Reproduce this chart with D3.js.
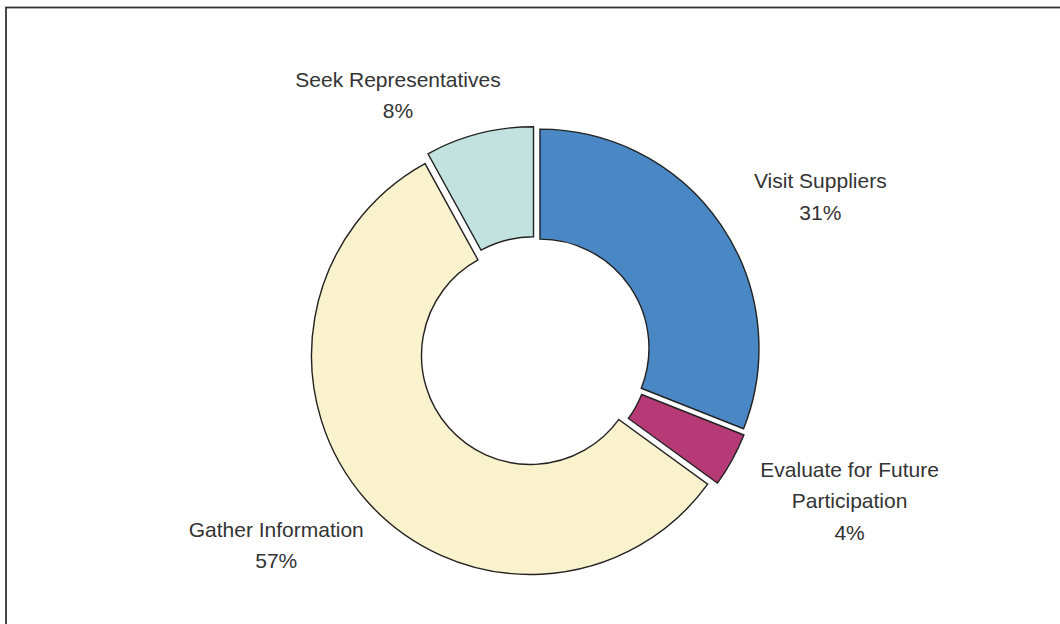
<!DOCTYPE html>
<html>
<head>
<meta charset="utf-8">
<script src="https://cdn.jsdelivr.net/npm/d3@7"></script>
<style>
  html, body { margin: 0; padding: 0; background: #ffffff; }
  svg { display: block; }
</style>
</head>
<body>
<svg id="chart" width="1060" height="624"></svg>
<script>
// ---- data ----
const categories = ["Visit Suppliers", "Evaluate for Future Participation", "Gather Information", "Seek Representatives"];
const values = [31, 4, 57, 8];
const percentLabels = ["31%", "4%", "57%", "8%"];
const colors = ["#4a87c5", "#b63a75", "#faf1cd", "#c2e2df"];

// ---- layout ----
const W = 1060, H = 624;
const cx = 535, cy = 351.5;
const outerR = 219, innerR = 109;
const explode = 6;
const labelRx = 345, labelRy = 285, labelShiftY = 5, extraLinePush = 14;
const labelNudgeDeg = { "Seek Representatives": -9 };
const fontSize = 21, lineH = 31.5, wrapWidth = 215;

const svg = d3.select("#chart");

// frame
svg.append("rect")
  .attr("x", 6).attr("y", 7.5)
  .attr("width", W + 50).attr("height", H + 50)
  .attr("fill", "#ffffff")
  .attr("stroke", "#333333").attr("stroke-width", 1.8);

const pie = d3.pie().sort(null).value(d => d.value).startAngle(0).endAngle(2 * Math.PI);
const arcs = pie(categories.map((c, i) => ({ name: c, value: values[i], pct: percentLabels[i], color: colors[i] })));
const arc = d3.arc().innerRadius(innerR).outerRadius(outerR);

const g = svg.append("g").attr("transform", `translate(${cx},${cy})`);

g.selectAll("path.slice")
  .data(arcs)
  .join("path")
  .attr("class", "slice")
  .attr("d", arc)
  .attr("transform", d => {
    const a = (d.startAngle + d.endAngle) / 2;
    return `translate(${explode * Math.sin(a)},${-explode * Math.cos(a)})`;
  })
  .attr("fill", d => d.data.color)
  .attr("stroke", "#222222")
  .attr("stroke-width", 1.4)
  .attr("stroke-linejoin", "miter");

// labels
const labelG = g.append("g")
  .attr("font-family", "'Liberation Sans', Arial, sans-serif")
  .attr("font-size", fontSize)
  .attr("fill", "#333333")
  .attr("text-anchor", "middle");

const measure = svg.append("text").attr("font-family", "'Liberation Sans', Arial, sans-serif").attr("font-size", fontSize).attr("visibility", "hidden");
function wrap(text) {
  const words = text.split(" ");
  const lines = [];
  let cur = "";
  words.forEach(w => {
    const t = cur ? cur + " " + w : w;
    measure.text(t);
    if (cur && measure.node().getComputedTextLength() > wrapWidth) {
      lines.push(cur);
      cur = w;
    } else cur = t;
  });
  if (cur) lines.push(cur);
  return lines;
}

arcs.forEach(d => {
  const nudge = (labelNudgeDeg[d.data.name] || 0) * Math.PI / 180;
  const a = (d.startAngle + d.endAngle) / 2 + nudge;
  const lines = wrap(d.data.name).concat([d.data.pct]);
  const n = lines.length;
  const push = Math.max(0, n - 2) * extraLinePush;
  const lx = (labelRx + push) * Math.sin(a);
  const ly = -(labelRy + push) * Math.cos(a) + labelShiftY;
  const t = labelG.append("text").attr("x", lx).attr("y", ly);
  lines.forEach((ln, i) => {
    t.append("tspan")
      .attr("x", lx)
      .attr("y", ly + (i - (n - 1) / 2) * lineH)
      .attr("dy", "0.36em")
      .text(ln);
  });
});
measure.remove();
</script>
</body>
</html>
